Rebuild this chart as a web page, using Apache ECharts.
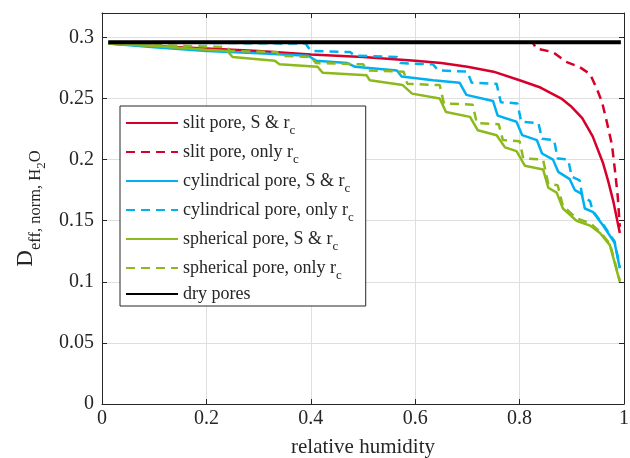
<!DOCTYPE html>
<html><head><meta charset="utf-8">
<script src="https://cdn.jsdelivr.net/npm/echarts@6/dist/echarts.min.js"></script>
<style>html,body{margin:0;padding:0;background:#fff}#c{width:630px;height:458px}</style>
</head><body><div id="c"></div>
<script>
// ---- data ----
const seriesNames = ['slit pore, S & r{s|c}','slit pore, only r{s|c}','cylindrical pore, S & r{s|c}','cylindrical pore, only r{s|c}','spherical pore, S & r{s|c}','spherical pore, only r{s|c}','{d|dry pores}'];

const slitSX = [0.012,0.1,0.2,0.3,0.4,0.5,0.6,0.65,0.7,0.75,0.8,0.84,0.88,0.9,0.92,0.94,0.96,0.97,0.98,0.992];
const slitSY = [0.295,0.293,0.291,0.289,0.286,0.284,0.281,0.279,0.276,0.272,0.265,0.259,0.250,0.243,0.234,0.219,0.197,0.182,0.165,0.140];

const slitRX = [0.012,0.825,0.832,0.864,0.889,0.914,0.935,0.948,0.958,0.967,0.977,0.983,0.988,0.992];
const slitRY = [0.296,0.296,0.291,0.288,0.280,0.276,0.270,0.258,0.247,0.231,0.212,0.190,0.170,0.145];

const cylSX = [0.012,0.1,0.2,0.3,0.395,0.41,0.47,0.485,0.565,0.574,0.634,0.685,0.698,0.749,0.758,0.794,0.805,0.833,0.843,0.864,0.874,0.896,0.906,0.919,0.925,0.941,0.96,0.982,0.992];
const cylSY = [0.295,0.292,0.289,0.287,0.285,0.281,0.279,0.276,0.273,0.268,0.265,0.263,0.253,0.248,0.236,0.231,0.220,0.216,0.205,0.200,0.190,0.184,0.175,0.172,0.160,0.157,0.146,0.132,0.111];

const cylRX = [0.012,0.39,0.40,0.475,0.485,0.565,0.572,0.634,0.644,0.70,0.708,0.756,0.764,0.796,0.803,0.836,0.843,0.866,0.873,0.893,0.90,0.915,0.92,0.935,0.94,0.96,0.982,0.992];
const cylRY = [0.296,0.295,0.289,0.288,0.285,0.284,0.279,0.278,0.273,0.272,0.263,0.262,0.247,0.246,0.231,0.230,0.217,0.216,0.201,0.200,0.186,0.183,0.170,0.166,0.158,0.147,0.133,0.112];

const sphSX = [0.012,0.1,0.2,0.24,0.25,0.331,0.34,0.413,0.423,0.507,0.513,0.576,0.594,0.647,0.659,0.705,0.72,0.756,0.772,0.794,0.81,0.845,0.855,0.871,0.883,0.896,0.909,0.935,0.954,0.973,0.992];
const sphSY = [0.295,0.293,0.290,0.289,0.284,0.281,0.278,0.276,0.271,0.269,0.265,0.261,0.254,0.250,0.239,0.235,0.224,0.220,0.210,0.207,0.195,0.192,0.177,0.173,0.160,0.155,0.150,0.146,0.140,0.130,0.100];

const sphRX = [0.012,0.24,0.245,0.335,0.34,0.40,0.41,0.50,0.51,0.578,0.585,0.647,0.655,0.71,0.718,0.76,0.768,0.80,0.807,0.845,0.855,0.873,0.883,0.896,0.909,0.935,0.954,0.973,0.992];
const sphRY = [0.295,0.292,0.289,0.288,0.285,0.284,0.279,0.278,0.273,0.272,0.262,0.261,0.246,0.245,0.230,0.229,0.216,0.215,0.201,0.200,0.180,0.179,0.162,0.157,0.152,0.148,0.141,0.131,0.101];

const dryX = [0.012,0.994];
const dryY = [0.296,0.296];

const xTicks = [0,0.2,0.4,0.6,0.8,1];
const yTicks = [0,0.05,0.1,0.15,0.2,0.25,0.3];

// ---- build ----
const zip = (xs, ys) => xs.map((x, i) => [x, ys[i]]);
const RED = '#d7002a', BLUE = '#00b0ef', GREEN = '#8cb91c', INK = '#262626';
const DASH = [9, 6];
const FONT = 'Liberation Serif';

function mk(name, xs, ys, color, dashed, width) {
  return {
    name, type: 'line', data: zip(xs, ys), symbol: 'none', animation: false,
    lineStyle: { color, width: width || 2.5, type: dashed ? DASH : 'solid', cap: 'butt' },
    itemStyle: { color }
  };
}

const chart = echarts.init(document.getElementById('c'), null, { renderer: 'canvas' });
const fmtY = v => yTicks.some(t => Math.abs(t - v) < 1e-9) ? String(v) : '';
const fmtX = v => xTicks.some(t => Math.abs(t - v) < 1e-9) ? String(v) : '';

chart.setOption({
  animation: false,
  backgroundColor: '#fff',
  grid: { left: 102, right: 6, top: 13, bottom: 54, containLabel: false, outerBoundsMode: 'none' },
  xAxis: [{
    type: 'value', min: 0, max: 1, interval: 0.2,
    name: 'relative humidity', nameLocation: 'middle', nameGap: 33,
    nameTextStyle: { fontFamily: FONT, fontSize: 21, color: INK },
    axisLine: { show: true, lineStyle: { color: INK, width: 1 } },
    axisTick: { show: true, inside: true, length: 5, lineStyle: { color: INK } },
    axisLabel: { fontFamily: FONT, fontSize: 20, color: INK, margin: 5, formatter: fmtX },
    splitLine: { show: true, lineStyle: { color: '#dfdfdf', width: 1 } }
  }, {
    type: 'value', min: 0, max: 1, interval: 0.2, position: 'top',
    axisLine: { show: true, onZero: false, lineStyle: { color: INK, width: 1 } },
    axisTick: { show: true, inside: true, length: 5, lineStyle: { color: INK } },
    axisLabel: { show: false }, splitLine: { show: false }
  }],
  yAxis: [{
    type: 'value', min: 0, max: 0.32, interval: 0.05,
    name: '{d|D}{s|eff, norm, H}{ss|2}{s|O}', nameLocation: 'middle', nameGap: 60,
    nameTextStyle: {
      fontFamily: FONT, fontSize: 20, color: INK,
      rich: {
        d: { fontFamily: FONT, fontSize: 23, color: INK, lineHeight: 24, verticalAlign: 'top' },
        s: { fontFamily: FONT, fontSize: 16.5, color: INK, lineHeight: 16, verticalAlign: 'top', padding: [13, 0, 0, 0] },
        ss: { fontFamily: FONT, fontSize: 13, color: INK, lineHeight: 13, verticalAlign: 'top', padding: [21, 0, 0, 0] }
      }
    },
    axisLine: { show: true, lineStyle: { color: INK, width: 1 } },
    axisTick: { show: true, inside: true, length: 5, lineStyle: { color: INK } },
    axisLabel: { fontFamily: FONT, fontSize: 20, color: INK, margin: 8, formatter: fmtY },
    splitLine: { show: true, lineStyle: { color: '#dfdfdf', width: 1 } }
  }, {
    type: 'value', min: 0, max: 0.32, interval: 0.05, position: 'right',
    axisLine: { show: true, onZero: false, lineStyle: { color: INK, width: 1 } },
    axisTick: { show: true, inside: true, length: 5, lineStyle: { color: INK } },
    axisLabel: { show: false }, splitLine: { show: false }
  }],
  legend: {
    orient: 'vertical', left: 120, top: 106,
    backgroundColor: '#fff', borderColor: INK, borderWidth: 1, borderRadius: 0,
    padding: [3, 12, 1, 5], itemGap: 1, itemWidth: 52, itemHeight: 14,
    itemStyle: { opacity: 0 },
    data: seriesNames,
    textStyle: {
      fontFamily: FONT, fontSize: 18, color: INK, lineHeight: 28,
      rich: {
        s: { fontFamily: FONT, fontSize: 13, color: INK, lineHeight: 14, verticalAlign: 'bottom' },
        d: { fontFamily: FONT, fontSize: 18, color: INK, lineHeight: 22 }
      }
    }
  },
  series: [
    mk(seriesNames[0], slitSX, slitSY, RED, false),
    mk(seriesNames[1], slitRX, slitRY, RED, true),
    mk(seriesNames[2], cylSX, cylSY, BLUE, false),
    mk(seriesNames[3], cylRX, cylRY, BLUE, true),
    mk(seriesNames[4], sphSX, sphSY, GREEN, false),
    mk(seriesNames[5], sphRX, sphRY, GREEN, true),
    mk(seriesNames[6], dryX, dryY, '#000', false, 4)
  ]
});
</script></body></html>
